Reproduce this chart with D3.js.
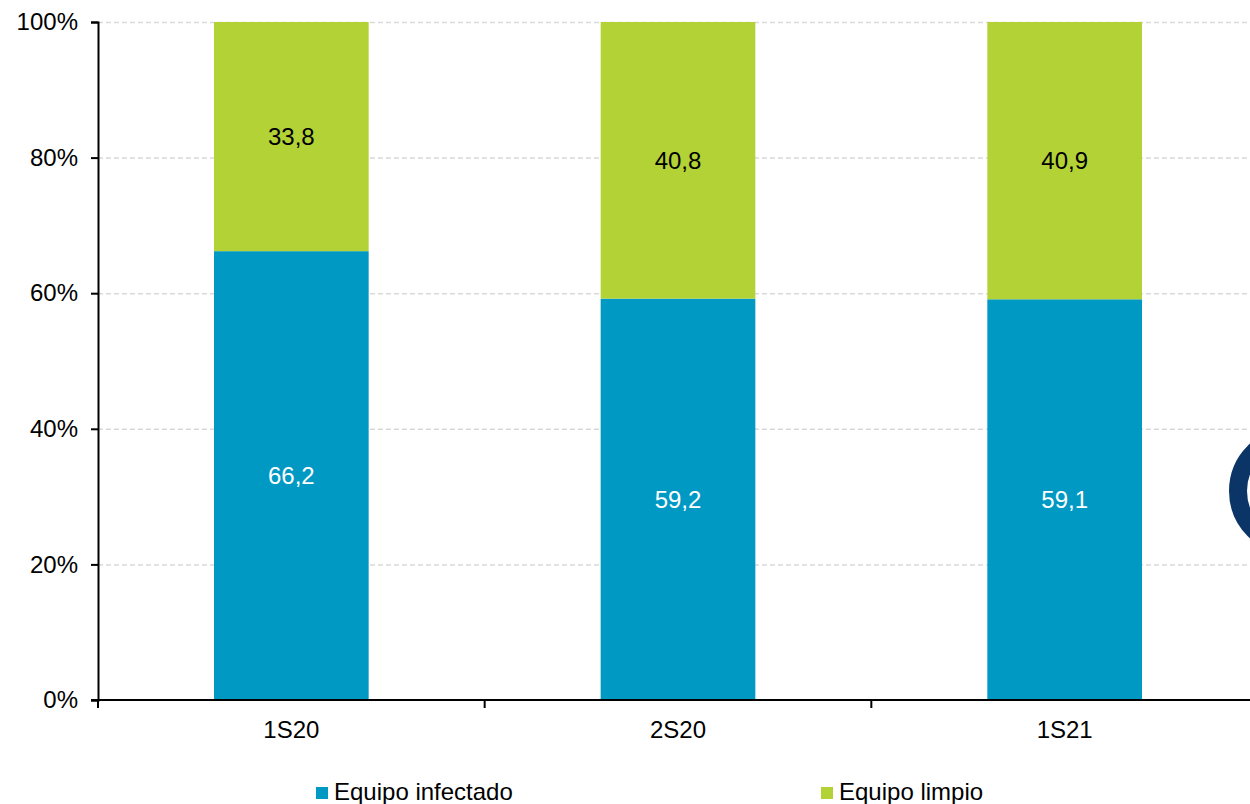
<!DOCTYPE html>
<html>
<head>
<meta charset="utf-8">
<script src="https://cdn.jsdelivr.net/npm/d3@7"></script>
<style>
  html, body { margin: 0; padding: 0; background: #fff; }
  svg { display: block; font-family: "Liberation Sans", Arial, sans-serif; }
</style>
</head>
<body>
<div id="chart"></div>
<script>
const WIDTH = 1250;
const HEIGHT = 804;

const CATEGORIES = ["1S20", "2S20", "1S21"];
const INFECTED = [66.2, 59.2, 59.1];
const CLEAN = [33.8, 40.8, 40.9];
const SERIES_NAMES = ["Equipo infectado", "Equipo limpio"];
const Y_TICKS = [0, 20, 40, 60, 80, 100];

const BLUE = "#0099c4";
const GREEN = "#b3d236";
const FONT = 24;

const margin = { top: 22, left: 98, bottom: 104 };
const plotRight = 1258; // plot area runs a little past the window edge

const svg = d3.select("#chart")
  .append("svg")
  .attr("width", WIDTH)
  .attr("height", HEIGHT);

const x = d3.scaleBand()
  .domain(CATEGORIES)
  .range([margin.left, plotRight])
  .paddingInner(0.6)
  .paddingOuter(0.3);

const y = d3.scaleLinear()
  .domain([0, 100])
  .range([HEIGHT - margin.bottom, margin.top]);

// gridlines
svg.append("g")
  .selectAll("line")
  .data(Y_TICKS.filter(d => d > 0))
  .join("line")
  .attr("x1", margin.left)
  .attr("x2", plotRight)
  .attr("y1", d => y(d) + 0.5)
  .attr("y2", d => y(d) + 0.5)
  .attr("stroke", "#d9d9d9")
  .attr("stroke-width", 1.5)
  .attr("stroke-dasharray", "5,3");

// stacked data
const rows = CATEGORIES.map((c, i) => ({ cat: c, infected: INFECTED[i], clean: CLEAN[i] }));
const stack = d3.stack().keys(["infected", "clean"])(rows);
const colors = [BLUE, GREEN];
const labelColors = ["#fff", "#000"];

stack.forEach((layer, li) => {
  const g = svg.append("g");
  g.selectAll("rect")
    .data(layer)
    .join("rect")
    .attr("x", d => x(d.data.cat))
    .attr("width", x.bandwidth())
    .attr("y", d => y(d[1]))
    .attr("height", d => y(d[0]) - y(d[1]))
    .attr("fill", colors[li]);

  g.selectAll("text")
    .data(layer)
    .join("text")
    .attr("x", d => x(d.data.cat) + x.bandwidth() / 2)
    .attr("y", d => (y(d[0]) + y(d[1])) / 2)
    .attr("text-anchor", "middle")
    .attr("dominant-baseline", "central")
    .attr("font-size", FONT)
    .attr("fill", labelColors[li])
    .text(d => d3.format(".1f")(d[1] - d[0]).replace(".", ","));
});

// y axis
const yAxis = svg.append("g")
  .attr("transform", `translate(${margin.left},0)`)
  .call(d3.axisLeft(y).tickValues(Y_TICKS).tickSize(7).tickPadding(13).tickFormat(d => d + "%"));
yAxis.select(".domain").attr("stroke", "#000").attr("stroke-width", 2);
yAxis.selectAll(".tick line").attr("stroke", "#000").attr("stroke-width", 2);
yAxis.selectAll(".tick text").attr("font-size", FONT).attr("fill", "#000").attr("font-family", null);

// x axis
const xAxis = svg.append("g")
  .attr("transform", `translate(0,${y(0)})`);
xAxis.append("line")
  .attr("x1", margin.left - 7)
  .attr("x2", plotRight)
  .attr("stroke", "#000")
  .attr("stroke-width", 2);

const boundaries = d3.range(CATEGORIES.length + 1).map(i => margin.left + i * (plotRight - margin.left) / CATEGORIES.length);
xAxis.selectAll("line.tick")
  .data(boundaries)
  .join("line")
  .attr("class", "tick")
  .attr("x1", d => d)
  .attr("x2", d => d)
  .attr("y1", 0)
  .attr("y2", 8)
  .attr("stroke", "#000")
  .attr("stroke-width", 2);

xAxis.selectAll("text")
  .data(CATEGORIES)
  .join("text")
  .attr("x", d => x(d) + x.bandwidth() / 2)
  .attr("y", 38)
  .attr("text-anchor", "middle")
  .attr("font-size", FONT)
  .attr("fill", "#000")
  .text(d => d);

// legend
const legendX = [316, 821];
const legend = svg.append("g");
SERIES_NAMES.forEach((name, i) => {
  legend.append("rect")
    .attr("x", legendX[i])
    .attr("y", 787)
    .attr("width", 12)
    .attr("height", 12)
    .attr("fill", colors[i]);
  legend.append("text")
    .attr("x", legendX[i] + 18)
    .attr("y", 800)
    .attr("font-size", FONT)
    .attr("fill", "#000")
    .text(name);
});

// partial logo ring at right edge
svg.append("circle")
  .attr("cx", 1293)
  .attr("cy", 491)
  .attr("r", 55)
  .attr("fill", "none")
  .attr("stroke", "#0b3567")
  .attr("stroke-width", 18);
</script>
</body>
</html>
